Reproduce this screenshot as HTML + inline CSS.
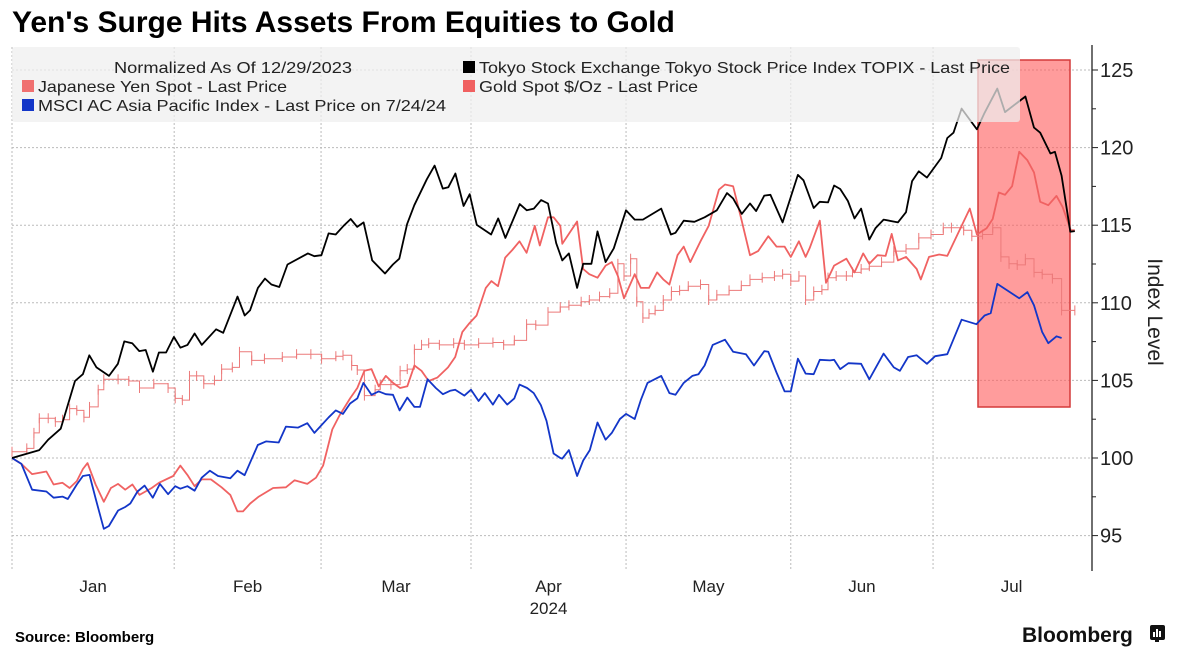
<!DOCTYPE html>
<html><head><meta charset="utf-8">
<style>
body{margin:0;background:#fff;font-family:"Liberation Sans",sans-serif;}
#wrap{position:relative;width:1177px;height:654px;overflow:hidden;}
</style></head>
<body>
<div id="wrap">
<svg id="svg" width="1177" height="654" xmlns="http://www.w3.org/2000/svg">
<text x="12" y="32" font-family="Liberation Sans, sans-serif" font-weight="bold" font-size="30" fill="#000">Yen's Surge Hits Assets From Equities to Gold</text>
<g id="grid"></g>
<rect x="978" y="60" width="92" height="347" fill="rgba(255,90,90,0.6)" stroke="#d43a3a" stroke-width="1.5"/>
<g id="series"></g>
<g font-size="16" fill="#222">
<rect x="12" y="47" width="1008" height="75" rx="3" fill="rgba(238,238,238,0.72)"/>
<text x="114" y="73" textLength="238" lengthAdjust="spacingAndGlyphs">Normalized As Of 12/29/2023</text>
<g><rect x="463" y="61" width="12" height="12" fill="#000"/><text x="479" y="73" textLength="531" lengthAdjust="spacingAndGlyphs">Tokyo Stock Exchange Tokyo Stock Price Index TOPIX - Last Price</text></g>
<g><rect x="22" y="80" width="12" height="12" fill="#f07070"/><text x="38" y="92" textLength="249" lengthAdjust="spacingAndGlyphs">Japanese Yen Spot - Last Price</text></g>
<g><rect x="463" y="80" width="12" height="12" fill="#f06060"/><text x="479" y="92" textLength="219" lengthAdjust="spacingAndGlyphs">Gold Spot $/Oz - Last Price</text></g>
<g><rect x="22" y="99" width="12" height="12" fill="#1336c8"/><text x="38" y="111" textLength="408" lengthAdjust="spacingAndGlyphs">MSCI AC Asia Pacific Index - Last Price on 7/24/24</text></g>
</g>
<g id="axes"></g>
<text x="0" y="0" transform="translate(1148,312) rotate(90)" text-anchor="middle" font-size="21" fill="#222">Index Level</text>
<text x="15" y="642" font-size="15" font-weight="bold" fill="#000">Source: Bloomberg</text>
<text x="1022" y="642" font-size="21" font-weight="bold" fill="#111">Bloomberg</text>
<g><rect x="1150" y="625" width="15" height="15" rx="2" fill="#111"/><rect x="1155" y="639" width="4" height="3" fill="#111"/><rect x="1153" y="632" width="2" height="5" fill="#fff"/><rect x="1156" y="629" width="2" height="8" fill="#fff"/><rect x="1159" y="631" width="2" height="6" fill="#fff"/></g>
</svg>
</div>
<script>
const yTicks=[95,100,105,110,115,120,125];
const monthLabels=["Jan","Feb","Mar","Apr","May","Jun","Jul"];
const monthStarts=[0,31.8,60.6,90,120.4,152.7,180.6,212.6];
const topixDays=[0,5.35,7.1,9.55,12.36,13.9,15.16,16.56,19.01,20.76,22.02,23.56,24.96,26.22,27.62,28.81,30.21,31.75,33.01,34.41,35.81,37.22,40.02,41.42,44.22,45.62,46.67,48.21,49.61,50.87,52.41,54.02,58.01,59.27,60.67,62.08,63.48,65.02,66.42,67.68,68.94,70.62,73.14,74.68,75.94,77.48,78.88,81.33,82.87,84.48,85.54,86.94,88.55,89.74,91.14,93.94,95.34,96.74,99.54,100.94,102.34,103.74,105.1,106.7,107.9,109.2,110.8,112.0,113.6,114.8,116.4,118.0,120.4,122.1,123.7,127.3,129.2,130.1,131.7,133.8,135.8,138.2,140.2,141.4,143.1,144.7,145.9,147.5,148.7,151.1,154.1,155.2,157.2,158.4,160.0,161.2,162.4,163.9,165.2,166.5,168.1,169.3,170.9,173.7,175.3,176.5,177.8,179.4,182.2,183.4,184.6,186.2,189.2,190.7,193.2,194.7,198.7,200.4,201.6,203.6,204.5,205.8,207.5,208.4];
const topixValues=[100,100.51,101.18,101.89,104.96,105.4,106.62,105.84,105.29,106.07,107.51,107.4,106.89,106.96,105.56,106.8,106.8,107.8,107.11,107.29,108.02,107.29,108.29,108.07,110.4,109.18,109.51,110.96,111.56,111.18,111.02,112.47,113.18,113.0,113.07,114.47,114.4,114.96,115.4,114.89,115.18,112.73,111.89,112.47,112.84,115.07,116.29,117.96,118.84,117.36,117.44,118.33,116.24,117.0,115.02,114.4,115.44,114.18,116.36,115.96,116.07,116.62,116.4,113.84,112.73,113.18,110.96,112.51,112.51,114.6,112.62,113.51,115.96,115.36,115.36,116.07,114.4,114.51,115.29,115.22,115.51,115.96,117.07,116.73,115.73,116.4,115.91,116.91,116.96,115.18,118.24,117.89,116.11,116.51,116.47,117.56,117.33,116.56,115.44,116.07,114.07,114.8,115.36,115.18,115.84,117.84,118.47,118.07,119.33,120.62,120.96,122.51,121.18,122.24,123.8,122.29,123.29,121.29,120.96,119.62,119.73,118.18,114.58,114.62];
const goldDays=[0,1.85,3.95,6.75,8.15,9.9,11.3,12.7,13.9,14.8,16.4,18.0,19.4,20.8,22.2,23.6,25.0,27.4,28.8,31.6,33.0,34.4,35.8,37.2,39.0,41.1,42.8,44.2,45.3,46.7,48.4,51.2,53.7,55.4,57.9,59.6,61.0,62.8,64.2,66.3,67.7,69.1,70.5,71.9,73.3,74.7,76.1,77.5,78.9,80.3,81.7,83.4,85.5,86.9,88.3,89.7,91.1,92.9,94.0,95.3,96.7,98.1,99.5,100.9,102.5,103.5,105.1,106.2,107.5,107.9,110.8,112.0,113.2,114.8,116.4,117.6,118.8,120.0,122.1,123.3,124.9,126.5,127.7,128.9,130.5,131.7,133.0,135.0,136.6,138.6,139.8,141.4,143.0,144.7,146.3,148.3,149.9,151.5,152.7,154.3,155.6,156.4,158.4,159.6,161.2,163.6,165.2,166.9,168.1,169.7,171.3,172.5,173.7,175.3,177.4,178.2,179.8,181.8,183.4,187.8,189.2,191.1,192.3,193.5,194.7,196.1,197.5,199.1,200.4,201.6,203.2,204.8,206.0,207.6,208.4];
const goldValues=[100,99.62,98.96,99.13,98.29,98.4,98.07,98.51,99.29,99.67,98.29,97.18,98.07,98.33,97.96,98.29,97.62,98.07,98.4,98.84,99.51,98.91,98.18,98.62,98.62,98.11,97.62,96.56,96.56,97.07,97.51,98.07,98.11,98.56,98.33,98.73,99.51,101.84,102.73,103.84,104.51,105.62,105.73,104.62,105.29,104.84,104.51,104.62,105.96,105.62,104.96,105.18,105.84,106.51,108.11,108.69,109.18,110.96,111.4,111.07,112.91,113.4,113.96,113.22,114.96,113.69,115.51,115.51,114.96,113.8,115.24,112.18,111.84,111.62,112.4,112.62,111.73,110.29,111.84,110.96,110.96,111.96,111.51,111.18,113.07,113.62,112.62,113.96,114.96,117.29,117.62,117.51,115.4,113.07,113.33,114.29,113.62,113.62,112.96,113.96,112.96,113.51,115.29,111.29,112.4,112.84,111.96,113.18,112.51,113.07,113.02,114.44,112.73,112.96,112.18,111.51,112.96,113.11,113.02,116.07,114.4,114.8,115.4,117.11,116.96,117.51,119.73,119.18,118.4,116.51,116.29,116.89,116.18,114.67,114.67];
const msciDays=[0,1.85,3.95,6.75,8.15,9.9,10.95,12.7,13.9,15.2,16.4,18.0,19.0,20.8,22.2,23.2,24.6,26.0,27.6,29.0,30.6,32.0,33.0,34.4,35.8,37.2,38.8,40.4,42.8,44.2,45.6,48.2,49.8,52.3,53.7,56.1,57.9,59.3,62.1,63.5,64.9,66.3,67.7,68.9,70.5,71.9,73.3,74.7,76.0,77.5,78.9,80.0,81.5,83.1,84.5,85.9,86.9,88.7,90.0,91.5,92.7,94.3,95.5,97.1,98.5,99.5,101.0,102.3,103.7,104.8,106.2,107.5,107.9,109.2,110.8,112.0,113.3,114.8,116.4,117.6,119.2,120.4,122.1,123.3,124.6,127.3,128.9,130.1,131.7,133.4,134.6,135.8,137.4,139.8,141.4,143.9,145.5,147.5,148.3,149.9,151.5,152.7,154.1,155.6,157.2,158.4,160.4,161.2,162.4,164.0,166.5,168.1,170.9,172.9,174.1,175.7,177.4,179.4,181.0,183.4,186.2,189.1,190.7,191.9,193.2,197.5,199.1,200.4,202.0,203.2,204.8,205.8];
const msciValues=[100,99.62,97.96,97.84,97.44,97.51,97.36,98.29,98.84,98.91,97.4,95.44,95.62,96.62,96.84,97.07,97.84,98.22,97.44,98.33,97.67,98.18,98.02,98.18,97.89,98.73,99.18,98.84,98.69,99.18,98.89,100.84,101.07,101.0,102.02,101.96,102.24,101.62,102.62,103.07,102.84,103.51,103.84,104.84,104.07,104.29,104.11,104.07,103.07,103.89,103.29,103.29,105.07,104.51,104.11,104.33,104.4,104.02,104.4,103.67,104.18,103.44,104.07,103.44,103.84,104.73,104.51,104.18,103.4,102.4,100.29,100.0,99.96,100.51,98.84,99.84,100.51,102.29,101.18,101.62,102.51,102.84,102.51,103.73,104.84,105.29,104.18,104.07,104.84,105.29,105.4,105.96,107.29,107.62,106.84,106.69,105.96,106.89,106.84,105.51,104.29,104.29,106.4,105.44,105.4,106.33,106.29,106.33,105.73,106.11,106.07,105.07,106.73,105.84,105.62,106.51,106.62,106.07,106.56,106.69,108.91,108.62,109.18,109.33,111.22,110.29,110.69,109.84,108.11,107.4,107.84,107.73];
const yenDays=[0,2.9,4.3,5.35,7.1,8.5,9.9,11.3,12.7,14.1,15.2,16.9,18.0,20.8,22.9,25.0,27.8,30.6,32.0,33.4,34.8,36.2,37.6,39.7,41.1,43.2,44.6,47.0,49.5,53.0,55.8,58.6,60.7,63.5,64.9,66.6,67.7,69.1,71.2,72.2,74.3,76.1,77.5,78.9,80.3,81.7,83.8,86.6,88.7,91.5,94.3,96.4,98.5,100.9,102.7,105.1,107.5,109.2,111.6,113.2,115.2,117.2,118.8,120.0,121.3,122.5,123.7,124.9,126.1,127.7,129.3,130.9,132.6,135.0,136.6,138.2,140.6,143.0,144.7,147.1,149.5,151.1,152.7,154.3,155.6,157.2,158.8,160.0,161.6,163.6,164.8,166.5,168.1,170.5,172.9,175.3,177.8,180.2,182.6,184.2,186.6,188.2,190.3,192.3,193.9,195.5,197.1,198.7,200.4,202.0,204.0,205.8,208.4];
const yenValues=[100.4,100.62,101.62,102.56,102.56,102.33,102.47,103.18,103.07,102.62,103.29,104.4,105.07,105.07,104.96,104.51,104.78,104.51,103.84,103.73,105.29,105.29,104.78,105.0,105.73,105.84,106.84,106.29,106.4,106.51,106.69,106.69,106.4,106.56,106.62,105.96,105.67,104.02,104.4,104.73,104.73,105.62,105.73,107.0,107.29,107.4,107.29,107.4,107.29,107.4,107.44,107.29,107.58,108.62,108.56,109.4,109.73,109.84,110.07,110.18,110.4,110.62,112.51,111.73,112.84,110.07,109.02,109.29,109.51,110.18,110.73,110.8,111.07,111.18,110.18,110.51,110.8,111.11,111.51,111.62,111.73,111.84,111.4,111.73,110.18,110.73,110.84,111.62,111.73,111.73,111.96,112.18,112.36,112.62,113.33,113.47,114.18,114.4,114.84,114.84,114.67,114.29,114.4,114.84,112.96,112.51,112.44,112.84,111.96,111.84,111.56,109.51,109.51];

const NS="http://www.w3.org/2000/svg";
const X0=12,XR=1092,DAY_PX=5.1;
function xs(d){return X0+d*DAY_PX;}
function ys(v){return 458-(v-100)*15.52;}
function mk(tag,attrs,parent){const e=document.createElementNS(NS,tag);for(const k in attrs)e.setAttribute(k,attrs[k]);parent.appendChild(e);return e;}
const grid=document.getElementById('grid'),axes=document.getElementById('axes'),ser=document.getElementById('series');
yTicks.forEach((t,i)=>{
  const l=mk('line',{x1:X0,x2:XR,y1:ys(t),y2:ys(t),stroke:'#bbb','stroke-width':1,'stroke-dasharray':'2,2'},grid);
  
  
  const tk=mk('line',{x1:XR,x2:XR+6,y1:ys(t),y2:ys(t),stroke:'#222','stroke-width':1},axes);
  
  
  if(i<yTicks.length-1){
    const mt=mk('line',{x1:XR,x2:XR+4,y1:ys(t+2.5),y2:ys(t+2.5),stroke:'#222','stroke-width':1},axes);
    
    
  }
  const tx=mk('text',{x:XR+8,y:ys(t)+7,'font-size':20,fill:'#222'},axes);
  tx.textContent=t;
  
  
});
monthStarts.forEach((d,i)=>{
  if(i<monthStarts.length-1){
    const l=mk('line',{x1:xs(d),x2:xs(d),y1:47,y2:570,stroke:'#bbb','stroke-width':1,'stroke-dasharray':'2,2'},grid);
    
    
    const mid=(d+Math.min(monthStarts[i+1],211.4))/2;
    const tx=mk('text',{x:xs(mid),y:592,'font-size':17,fill:'#222','text-anchor':'middle'},axes);
    tx.textContent=monthLabels[i];
    
    
  }
});
const yr=mk('text',{x:xs((monthStarts[3]+monthStarts[4])/2),y:614,'font-size':17,fill:'#222','text-anchor':'middle'},axes);
yr.textContent='2024';


const ax=mk('line',{x1:XR,x2:XR,y1:45,y2:571,stroke:'#222','stroke-width':1.3},axes);



function line(days,vals,color,w){
  const d=days.map((t,i)=>(i?'L':'M')+xs(t).toFixed(1)+','+ys(vals[i]).toFixed(1)).join('');
  return mk('path',{d:d,fill:'none',stroke:color,'stroke-width':w,'stroke-linejoin':'round'},ser);
}
let yd='';
yenDays.forEach((t,i)=>{
  const x=xs(t),y=ys(yenValues[i]);
  if(i===0)yd+='M'+x.toFixed(1)+','+y.toFixed(1);
  else yd+='H'+x.toFixed(1)+'V'+y.toFixed(1);
});
const yp=mk('path',{d:yd,fill:'none',stroke:'#ec7a7a','stroke-width':1},ser);


yenDays.forEach((t,i)=>{
  const x=xs(t),y=ys(yenValues[i]);
  const tk=mk('line',{x1:x,x2:x,y1:y-5,y2:y+5,stroke:'#ec7a7a','stroke-width':1},ser);
  
  
});
const gp=line(goldDays,goldValues,'#f06262',1.8);


const mp=line(msciDays,msciValues,'#1336c8',1.8);


const tp=line(topixDays,topixValues,'#000',1.8);


</script>
</body></html>
